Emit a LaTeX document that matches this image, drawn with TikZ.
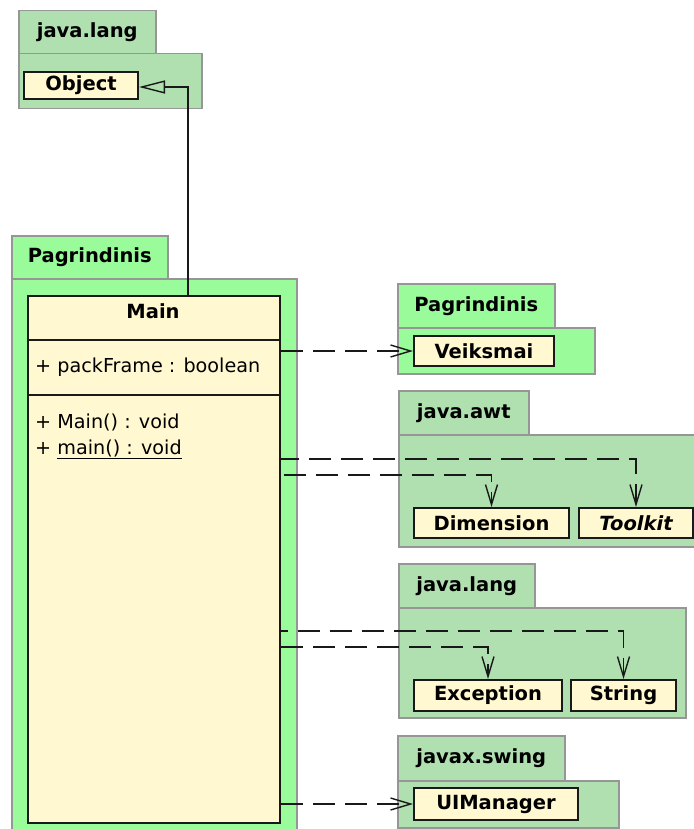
\documentclass[tikz,border=0pt]{standalone}
\usepackage{fontspec}
\setmainfont{DejaVu Sans}
\usetikzlibrary{arrows.meta}

\definecolor{pkggreen}{RGB}{176,223,176}
\definecolor{pkglime}{RGB}{153,251,153}
\definecolor{classfill}{RGB}{255,248,208}
\definecolor{pkgline}{RGB}{150,150,150}
\definecolor{umlline}{RGB}{25,25,25}

\tikzset{
  pkgpart/.style={draw=pkgline, line width=1.5pt, anchor=north west,
    inner sep=0pt, fill=pkggreen},
  pkgtab/.style={pkgpart, font=\fontsize{19.5}{23}\selectfont\bfseries},
  limepkg/.style={fill=pkglime},
  classbox/.style={draw=umlline, line width=2pt, fill=classfill,
    anchor=north west, inner sep=0pt,
    font=\fontsize{19.5}{23}\selectfont\bfseries},
  member/.style={anchor=west, inner sep=0pt,
    font=\fontsize{19.2}{23}\selectfont},
  dep/.style={draw=umlline, line width=1.8pt, dash pattern=on 22pt off 10pt,
    -{Straight Barb[length=20pt, width=12pt, line width=1.4pt]}},
  gen/.style={draw=umlline, line width=1.6pt,
    -{Triangle[open, length=26pt, width=13pt, line width=1.4pt]}},
}

\begin{document}
\begin{tikzpicture}[x=1pt, y=-1pt]
\useasboundingbox[fill=white] (0,0) rectangle (693,829);

% package java.lang (top)
\node[pkgpart, minimum width=183pt, minimum height=55pt] (jlbody) at (18,53) {};
\node[pkgtab, minimum width=137pt, minimum height=43pt] (jltab) at (18,10) {java.lang};
\node[classbox, minimum width=114pt, minimum height=27pt] (object) at (23,71) {Object};

% package Pagrindinis with class Main
\node[pkgpart, limepkg, minimum width=285pt, minimum height=560pt] (pgbody) at (11,278) {};
\node[pkgtab, limepkg, minimum width=156pt, minimum height=43pt] (pgtab) at (11,235) {Pagrindinis};
\node[classbox, minimum width=252pt, minimum height=527pt] (main) at (27,295) {};
\draw[umlline, line width=2pt] (main.west |- 0,340) -- (main.east |- 0,340);
\draw[umlline, line width=2pt] (main.west |- 0,395) -- (main.east |- 0,395);
\node[inner sep=0pt, font=\fontsize{19.5}{23}\selectfont\bfseries] (mainname) at (153,311) {Main};
\node[member] (attr) at (35,367) {+ packFrame : boolean};
\node[member] (ctor) at (35,422) {+ Main() : void};
\node[member] (mainop) at (35,449) {+ \underline{main() : void}};

% package Pagrindinis (right)
\node[pkgpart, limepkg, minimum width=197pt, minimum height=46pt] (pg2body) at (397,327) {};
\node[pkgtab, limepkg, minimum width=157pt, minimum height=44pt] (pg2tab) at (397,283) {Pagrindinis};
\node[classbox, minimum width=140pt, minimum height=30pt] (veiksmai) at (413,335) {Veiksmai};

% package java.awt
\node[pkgpart, minimum width=300pt, minimum height=112pt] (awtbody) at (398,434) {};
\node[pkgtab, minimum width=130pt, minimum height=44pt] (awttab) at (398,390) {java.awt};
\node[classbox, minimum width=155pt, minimum height=30pt] (dimension) at (413,507) {Dimension};
\node[classbox, minimum width=114pt, minimum height=30pt] (toolkit) at (578,507) {\itshape Toolkit};

% package java.lang (lower)
\node[pkgpart, minimum width=287pt, minimum height=110pt] (jl2body) at (398,607) {};
\node[pkgtab, minimum width=136pt, minimum height=44pt] (jl2tab) at (398,563) {java.lang};
\node[classbox, minimum width=148pt, minimum height=31pt] (exception) at (413,679) {Exception};
\node[classbox, minimum width=105pt, minimum height=31pt] (string) at (570,679) {String};

% package javax.swing
\node[pkgpart, minimum width=221pt, minimum height=47pt] (swbody) at (397,780) {};
\node[pkgtab, minimum width=167pt, minimum height=45pt] (swtab) at (397,735) {javax.swing};
\node[classbox, minimum width=164pt, minimum height=32pt] (uimanager) at (413,787) {UIManager};

% levels of the connectors
\coordinate (gx) at (188,0);
\coordinate (gy) at (0,87);
\coordinate (ytk) at (0,459);
\coordinate (ydim) at (0,475);
\coordinate (ystr) at (0,631);
\coordinate (yexc) at (0,647);

% generalization Main -> Object
\draw[gen] (main.north -| gx) |- (object.east |- gy);

% dependencies (phases keep a dash running round each corner)
\draw[dep] (main.east |- veiksmai.west) -- (veiksmai.west);
\draw[dep, dash phase=4pt] (main.east |- ytk) -| (toolkit.north);
\draw[dep, dash phase=29pt] (main.east |- ydim) -| (dimension.north);
\draw[dep, dash phase=15pt] (main.east |- ystr) -| (string.north);
\draw[dep] (main.east |- yexc) -| (exception.north);
\draw[dep] (main.east |- uimanager.west) -- (uimanager.west);
\end{tikzpicture}
\end{document}
